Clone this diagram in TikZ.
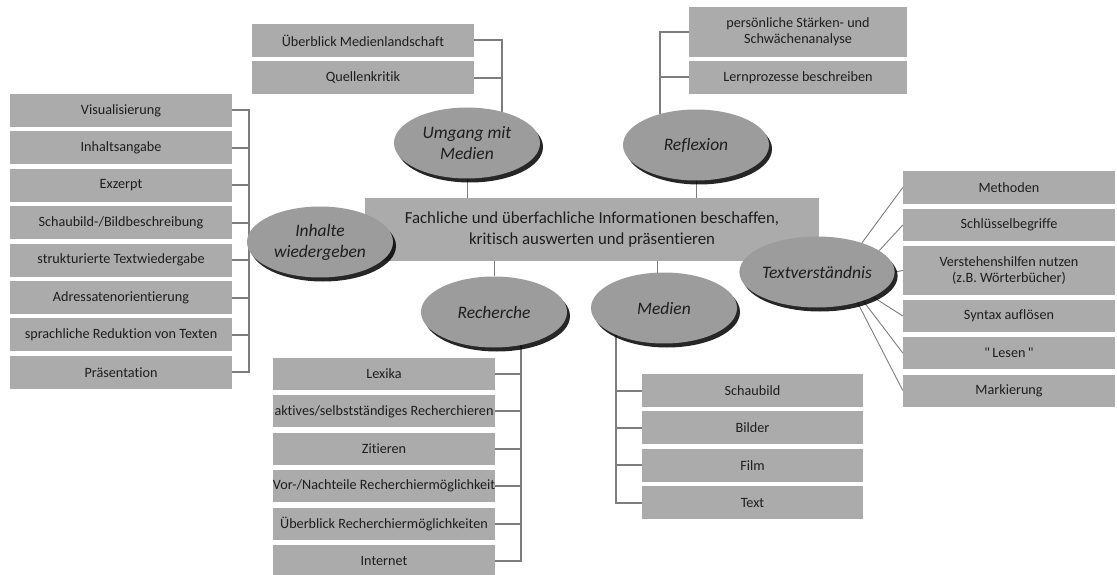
\documentclass[tikz,border=0pt]{standalone}
\usepackage{fontspec}
\setmainfont{Carlito}[Ligatures={TeX,NoCommon}]
\usetikzlibrary{shapes.geometric,shadows,backgrounds}

\definecolor{boxgray}{RGB}{171,171,171}
\definecolor{ellgray}{RGB}{156,156,156}
\definecolor{linegray}{RGB}{125,125,125}
\definecolor{textdark}{RGB}{30,30,30}

% gerades Anfuehrungszeichen (ohne TeX-Mapping)
\newcommand\gq{\XeTeXglyph\XeTeXcharglyph"22\relax}

\begin{document}
\begin{tikzpicture}[x=1pt,y=-1pt,node distance=37.4pt,
                    font=\fontsize{14.2}{16}\selectfont,text=textdark]

  \tikzstyle{item}=[rectangle,fill=boxgray,minimum width=222pt,minimum height=33pt,
                    inner sep=0pt,align=center]
  \tikzstyle{topic}=[ellipse,fill=ellgray,minimum width=146pt,minimum height=71pt,
                     inner sep=0pt,align=center,font=\fontsize{17.5}{21}\selectfont\itshape,
                     drop shadow={shadow xshift=3pt,shadow yshift=-4pt,fill=black,opacity=0.85}]
  \tikzstyle{bus}=[draw=linegray,line width=2pt]
  \tikzstyle{ray}=[draw=linegray,line width=0.9pt]

  \useasboundingbox (0,0) rectangle (1117,575);

  % Inhalte wiedergeben
  \node[item] (visu)                       at (121,110.5) {Visualisierung};
  \node[item] (inhaltsangabe) [below of=visu]          {Inhaltsangabe};
  \node[item] (exzerpt)       [below of=inhaltsangabe] {Exzerpt};
  \node[item] (schaubildb)    [below of=exzerpt]       {Schaubild-/Bildbeschreibung};
  \node[item] (strukturiert)  [below of=schaubildb]    {strukturierte Textwiedergabe};
  \node[item] (adressat)      [below of=strukturiert]  {Adressatenorientierung};
  \node[item] (reduktion)     [below of=adressat]      {sprachliche Reduktion von Texten};
  \node[item] (praes)         [below of=reduktion]     {Präsentation};

  % Umgang mit Medien
  \node[item] (ueberblickm)  at (363,40.5)        {Überblick Medienlandschaft};
  \node[item] (quellen)      [below of=ueberblickm] {Quellenkritik};

  % Reflexion
  \node[item,minimum width=218pt,minimum height=50pt] (staerken) at (798,32)
       {persönliche Stärken- und\\Schwächenanalyse};
  \node[item,minimum width=218pt] (lernprozesse) at (798,77.5) {Lernprozesse beschreiben};

  % Textverstaendnis
  \node[item,minimum width=212pt,minimum height=32pt] (methoden)  at (1009,187.5) {Methoden};
  \node[item,minimum width=212pt,minimum height=32pt] (schluessel) at (1009,225) {Schlüsselbegriffe};
  \node[item,minimum width=212pt,minimum height=49pt] (verstehen) at (1009,270.5)
       {Verstehenshilfen nutzen\\(z.B. Wörterbücher)};
  \node[item,minimum width=212pt,minimum height=32pt] (syntax)    at (1009,316) {Syntax auflösen};
  \node[item,minimum width=212pt,minimum height=32pt] (lesen)     at (1009,353) {\gq\,Lesen\,\gq};
  \node[item,minimum width=212pt,minimum height=32pt] (markierung) at (1009,390.5) {Markierung};

  % Recherche
  \node[item,minimum height=32pt] (lexika)   at (384,374)        {Lexika};
  \node[item,minimum height=32pt] (aktiv)    [below of=lexika]   {aktives/selbstständiges Recherchieren};
  \node[item,minimum height=32pt] (zitieren) [below of=aktiv]    {Zitieren};
  \node[item,minimum height=32pt] (vornach)  [below of=zitieren] {Vor-/Nachteile Recherchiermöglichkeit};
  \node[item,minimum height=32pt] (ueberblickr) [below of=vornach] {Überblick Recherchiermöglichkeiten};
  \node[item,minimum height=32pt] (internet) [below of=ueberblickr] {Internet};

  % Medien
  \node[item,minimum width=221pt] (schaubild) at (752.5,390.5)    {Schaubild};
  \node[item,minimum width=221pt] (bilder)    [below of=schaubild] {Bilder};
  \node[item,minimum width=221pt] (film)      [below of=bilder]    {Film};
  \node[item,minimum width=221pt] (text)      [below of=film]      {Text};

  % Mitte
  \node[rectangle,fill=boxgray,minimum width=454pt,minimum height=63pt,align=center,
        font=\fontsize{16.8}{21}\selectfont] (zentral) at (592,229.5)
       {Fachliche und überfachliche Informationen beschaffen,\\kritisch auswerten und präsentieren};

  \node[topic] (inhalte)   at (320,242) {Inhalte\\wiedergeben};
  \node[topic] (umgang)    at (467,143) {Umgang mit\\Medien};
  \node[topic] (reflexion) at (696,145) {Reflexion};
  \node[topic] (recherche) at (494,312) {Recherche};
  \node[topic] (medien)    at (664,308) {Medien};
  \node[topic] (textv)     at (817,272) {Textverständnis};

  \begin{scope}[on background layer]
    % zur Mitte
    \draw[bus,line width=1pt] (umgang) -- (umgang |- zentral.north);
    \draw[bus,line width=1pt] (reflexion) -- (reflexion |- zentral.north);
    \draw[bus,line width=1pt] (recherche) -- (recherche |- zentral.south);
    \draw[bus,line width=1pt] ([xshift=-7pt]medien.center) -- ([xshift=-7pt]medien |- zentral.south);

    % Klammern
    \draw[bus] (visu.east) -- ++(17,0) |- (praes.east);
    \foreach \n in {inhaltsangabe,exzerpt,schaubildb,strukturiert,adressat,reduktion}
      \draw[bus] (\n.east) -- ++(17,0);

    \draw[bus] (ueberblickm.east) -| (umgang.42);
    \draw[bus] (quellen.east) -- ++(27,0);

    \draw[bus] (staerken.west) -| (reflexion.139);
    \draw[bus] (lernprozesse.west) -- ++(-29,0);

    \draw[bus] (internet.east) -| (recherche.-51);
    \foreach \n in {lexika,aktiv,zitieren,vornach,ueberblickr}
      \draw[bus] (\n.east) -- ++(25,0);

    \draw[bus] (text.west) -| (medien.209);
    \foreach \n in {schaubild,bilder,film}
      \draw[bus] (\n.west) -- ++(-26,0);

    % Strahlen
    \draw[ray] (textv.33)  -- (methoden.west);
    \draw[ray] (textv.19)  -- (schluessel.west);
    \draw[ray] (textv.0)   -- (verstehen.west);
    \draw[ray] (textv.-24) -- (syntax.west);
    \draw[ray] (textv.-32) -- (lesen.west);
    \draw[ray] (textv.-37) -- (markierung.west);
  \end{scope}
\end{tikzpicture}
\end{document}
